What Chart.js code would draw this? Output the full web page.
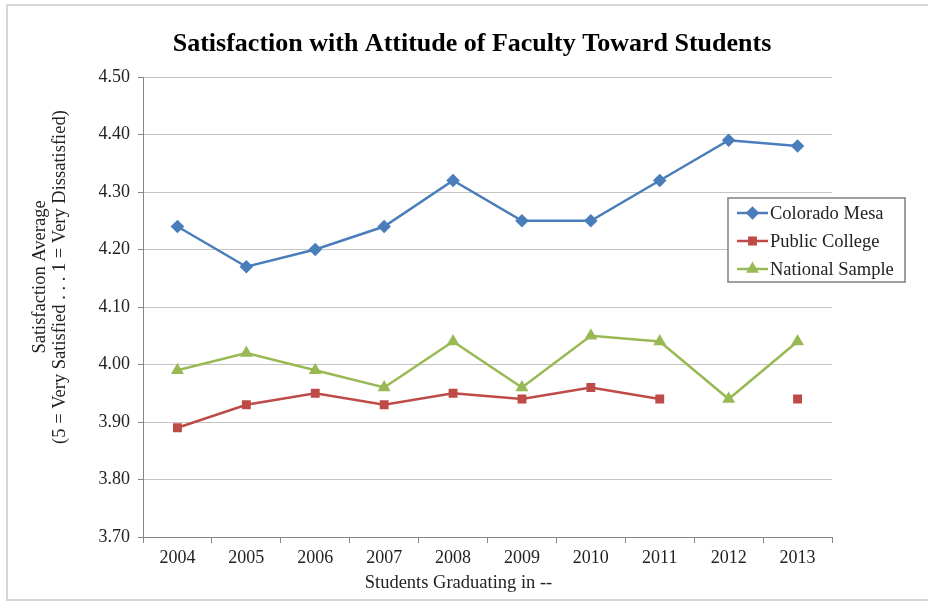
<!DOCTYPE html>
<html>
<head>
<meta charset="utf-8">
<script src="https://cdn.jsdelivr.net/npm/chart.js@4/dist/chart.umd.min.js"></script>
<style>
    html, body { margin: 0; padding: 0; background: #fff; }
    #wrap { position: relative; width: 928px; height: 606px; overflow: hidden; }
    #frame {
        position: absolute; left: 6px; top: 4px; width: 940px; height: 597px;
        border: 2px solid #d6d6d6; box-sizing: border-box; pointer-events: none;
    }
</style>
</head>
<body>
<div id="wrap">
    <canvas id="chart" width="928" height="606"></canvas>
    <div id="frame"></div>
</div>
<script>
// 資料
const years = ["2004", "2005", "2006", "2007", "2008", "2009", "2010", "2011", "2012", "2013"];
const coloradoMesa = [4.24, 4.17, 4.20, 4.24, 4.32, 4.25, 4.25, 4.32, 4.39, 4.38];
const publicCollege = [3.89, 3.93, 3.95, 3.93, 3.95, 3.94, 3.96, 3.94, null, 3.94];
const nationalSample = [3.99, 4.02, 3.99, 3.96, 4.04, 3.96, 4.05, 4.04, 3.94, 4.04];
const yTicks = [3.70, 3.80, 3.90, 4.00, 4.10, 4.20, 4.30, 4.40, 4.50];
const xTitle = "Students Graduating in --";
const yTitle = ["Satisfaction Average", "(5 = Very Satisfied . . . 1 = Very Dissatisfied)"];

const serif = "'Liberation Serif', 'Times New Roman', serif";

// 圖例畫在繪圖區內（與原圖重疊），兩個軸標題稍微偏離中心
const boxLegend = {
    id: "boxLegend",
    afterDraw(chart) {
        const { ctx, chartArea } = chart;
        const x = chartArea.right - 104;
        const y = chartArea.top + 121;
        const w = 177, h = 84;
        ctx.save();
        ctx.fillStyle = "#fff";
        ctx.fillRect(x, y, w, h);
        ctx.strokeStyle = "#7f7f7f";
        ctx.lineWidth = 1.5;
        ctx.strokeRect(x, y, w, h);
        ctx.font = "18.5px " + serif;
        ctx.textBaseline = "middle";
        chart.data.datasets.forEach((ds, i) => {
            const cy = y + 15 + i * 28;
            ctx.strokeStyle = ds.borderColor;
            ctx.lineWidth = 2.5;
            ctx.beginPath();
            ctx.moveTo(x + 9, cy);
            ctx.lineTo(x + 40, cy);
            ctx.stroke();
            Chart.helpers.drawPoint(ctx, {
                pointStyle: ds.pointStyle,
                radius: ds.pointRadius,
                borderWidth: 1
            }, x + 24.5, cy);
            ctx.fillStyle = ds.borderColor;
            ctx.fill();
            ctx.fillStyle = "#222";
            ctx.fillText(ds.label, x + 42, cy + 1);
        });

        // X 軸標題
        ctx.font = "18.5px " + serif;
        ctx.textAlign = "center";
        ctx.fillStyle = "#222";
        const midX = (chartArea.left + chartArea.right) / 2;
        ctx.fillText(xTitle, midX - 29, chartArea.bottom + 46);

        // Y 軸標題（旋轉）
        const midY = (chartArea.top + chartArea.bottom) / 2 - 30;
        ctx.translate(chartArea.left - 103, midY);
        ctx.rotate(-Math.PI / 2);
        yTitle.forEach((line, i) => ctx.fillText(line, 0, i * 20));
        ctx.restore();
    }
};

document.addEventListener("DOMContentLoaded", () => {
    const ctx = document.getElementById("chart").getContext("2d");
    new Chart(ctx, {
        type: "line",
        data: {
            labels: years,
            datasets: [
                {
                    label: "Colorado Mesa",
                    data: coloradoMesa,
                    borderColor: "#4a7ebb",
                    backgroundColor: "#4a7ebb",
                    pointStyle: "rectRot",
                    pointRadius: 5,
                    borderWidth: 2.5,
                },
                {
                    label: "Public College",
                    data: publicCollege,
                    borderColor: "#be4b48",
                    backgroundColor: "#be4b48",
                    pointStyle: "rect",
                    pointRadius: 4.5,
                    borderWidth: 2.5,
                },
                {
                    label: "National Sample",
                    data: nationalSample,
                    borderColor: "#98b954",
                    backgroundColor: "#98b954",
                    pointStyle: "triangle",
                    pointRadius: 5,
                    borderWidth: 2.5,
                },
            ],
        },
        options: {
            responsive: false,
            animation: false,
            layout: { padding: { left: 16, right: 0, top: 0, bottom: 0 } },
            elements: { line: { tension: 0 }, point: { borderWidth: 1 } },
            plugins: {
                legend: { display: false },
                tooltip: { enabled: false },
                title: {
                    display: true,
                    text: "Satisfaction with Attitude of Faculty Toward Students",
                    color: "#000",
                    font: { family: serif, size: 26, weight: "bold", lineHeight: 1.2 },
                    padding: { top: 28.4, bottom: 17.4 },
                },
            },
            scales: {
                x: {
                    type: "category",
                    offset: true,
                    grid: { offset: true, drawOnChartArea: false, drawTicks: true, tickLength: 6, color: "#868686" },
                    border: { color: "#868686", width: 1 },
                    ticks: { color: "#222", font: { family: serif, size: 18 }, padding: 4, maxRotation: 0 },
                    afterFit(scale) { scale.height = 69; },
                },
                y: {
                    min: 3.7,
                    max: 4.5,
                    afterBuildTicks(scale) { scale.ticks = yTicks.map(v => ({ value: v })); },
                    grid: { color: "#c4c4c4", lineWidth: 1, tickLength: 5, tickColor: "#868686" },
                    border: { color: "#868686", width: 1 },
                    ticks: {
                        color: "#222",
                        font: { family: serif, size: 18 },
                        padding: 8,
                        callback: v => Number(v).toFixed(2),
                    },
                    afterFit(scale) { scale.width = 127; },
                },
                // 右側留白
                yRight: {
                    position: "right",
                    display: true,
                    grid: { display: false, drawTicks: false },
                    border: { display: false },
                    ticks: { display: false },
                    afterFit(scale) { scale.width = 96; },
                },
            },
        },
        plugins: [boxLegend],
    });
});
</script>
</body>
</html>
